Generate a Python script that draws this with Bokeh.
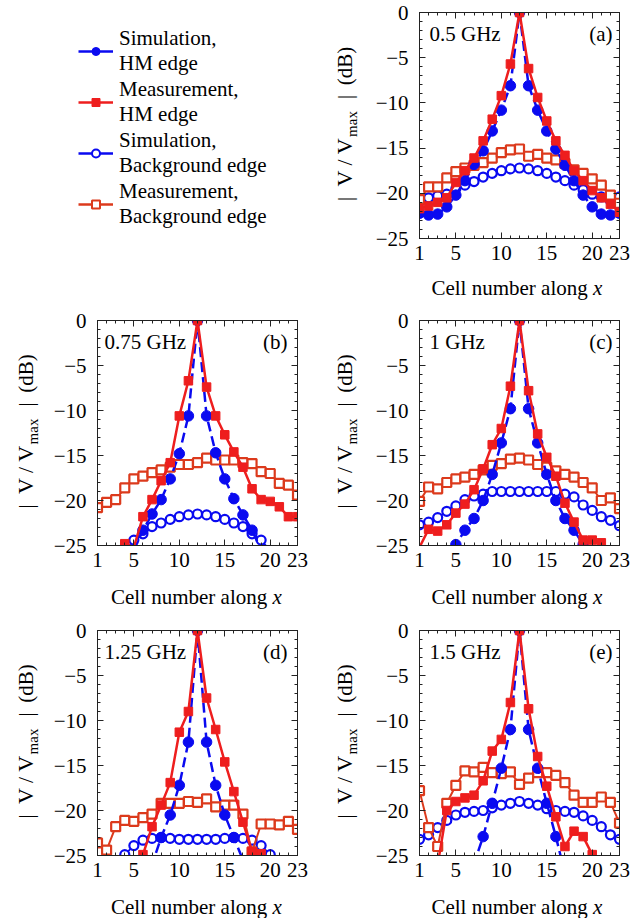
import numpy as np
from math import pi
from bokeh.plotting import figure
from bokeh.models import (Range1d, FixedTicker, LinearAxis, Label, Legend,
                          LegendItem, ColumnDataSource, CustomJSTickFormatter)
from bokeh.layouts import column, row
from bokeh.embed import file_html
from bokeh.resources import INLINE

# ---------------- data ----------------
cells = list(range(1, 24))
x_ticks = [1, 5, 10, 15, 20, 23]
y_ticks = [0, -5, -10, -15, -20, -25]
freq_labels = ["0.5 GHz", "0.75 GHz", "1 GHz", "1.25 GHz", "1.5 GHz"]
panel_tags = ["(a)", "(b)", "(c)", "(d)", "(e)"]
series_names = ["Simulation,\nHM edge", "Measurement,\nHM edge",
                "Simulation,\nBackground edge", "Measurement,\nBackground edge"]

# (a) 0.5 GHz
sim_hm_a = [-22.2, -22.4, -22.3, -21.5, -20.2, -18.6, -16.8, -15.3, -13.1, -10.8, -8.1, 0,
            -8.1, -10.8, -13.1, -15.1, -16.9, -18.6, -20.2, -21.5, -22.3, -22.4, -22.2]
meas_hm_a = [-21.7, -21.4, -21.0, -20.5, -18.8, -17.5, -16.1, -14.2, -11.8, -9.2, -5.7, 0,
             -6.2, -9.4, -12.0, -14.2, -15.8, -17.5, -18.6, -19.7, -20.5, -21.2, -22.1]
sim_bg_a = [-20.6, -20.5, -20.3, -20.1, -19.5, -19.1, -18.7, -18.2, -17.8, -17.5, -17.3, -17.2,
            -17.3, -17.5, -17.8, -18.2, -18.6, -19.1, -19.6, -20.1, -20.4, -20.8, -20.4]
meas_bg_a = [-20.7, -19.3, -19.3, -18.3, -17.6, -17.2, -16.9, -16.6, -16.1, -15.5, -15.2, -15.1,
             -15.9, -15.7, -16.1, -16.3, -16.7, -17.4, -17.8, -18.4, -19.1, -20.2, -21.1]

# (b) 0.75 GHz
sim_hm_b = [-33.0, -31.0, -29.0, -27.3, -25.5, -23.3, -21.5, -19.9, -17.6, -14.8, -10.6, 0,
            -10.6, -14.7, -17.6, -19.8, -21.6, -23.3, -25.5, -27.3, -29.0, -31.0, -33.0]
meas_hm_b = [-27.5, -26.5, -25.8, -24.8, -25.2, -21.8, -19.9, -17.8, -15.8, -10.6, -6.7, 0,
             -7.4, -10.6, -12.7, -14.6, -16.3, -18.7, -19.9, -20.1, -20.7, -21.8, -21.8]
sim_bg_b = [-29.0, -28.0, -27.0, -25.6, -24.4, -23.7, -22.9, -22.5, -22.1, -21.8, -21.6, -21.5,
            -21.6, -21.8, -22.1, -22.5, -22.9, -23.7, -24.4, -25.6, -27.0, -28.0, -29.0]
meas_bg_b = [-20.8, -20.2, -19.9, -18.6, -17.6, -17.3, -16.9, -16.6, -16.3, -16.0, -16.0, -15.8,
             -15.3, -15.5, -15.5, -15.5, -15.8, -15.9, -16.8, -17.0, -18.1, -18.3, -19.4]

# (c) 1 GHz
sim_hm_c = [-31.0, -29.5, -28.0, -26.5, -24.9, -23.3, -22.0, -20.0, -17.1, -13.6, -9.8, 0,
            -9.8, -13.6, -17.1, -20.0, -22.0, -23.3, -24.9, -26.5, -28.0, -29.5, -31.0]
meas_hm_c = [-25.2, -23.2, -23.4, -22.7, -21.4, -20.4, -18.8, -16.5, -13.8, -12.0, -7.3, 0,
             -7.8, -12.6, -15.2, -17.3, -20.3, -22.4, -24.4, -24.4, -24.7, -27.0, -28.0]
sim_bg_c = [-22.7, -22.4, -21.9, -21.2, -20.6, -19.9, -19.5, -19.3, -19.0, -19.0, -19.0, -19.0,
            -19.0, -19.0, -19.0, -19.0, -19.3, -19.6, -20.5, -21.1, -21.8, -22.2, -22.8]
meas_bg_c = [-20.1, -18.5, -18.7, -18.0, -17.6, -17.4, -17.1, -16.6, -16.1, -15.9, -15.4, -15.3,
             -15.5, -16.0, -16.3, -16.7, -17.1, -17.4, -18.0, -18.6, -20.0, -19.7, -20.9]

# (d) 1.25 GHz
sim_hm_d = [-40.0, -38.0, -36.0, -34.0, -32.0, -29.0, -26.0, -23.0, -20.5, -17.2, -12.4, 0,
            -12.4, -17.2, -20.5, -23.0, -25.5, -29.0, -32.0, -34.0, -36.0, -38.0, -40.0]
meas_hm_d = [-34.0, -32.0, -30.0, -28.5, -27.0, -24.9, -21.8, -19.4, -16.9, -11.3, -9.0, 0,
             -7.5, -11.0, -14.6, -17.9, -21.3, -24.6, -24.8, -27.0, -29.0, -31.0, -33.0]
sim_bg_d = [-27.5, -26.5, -25.6, -24.9, -23.9, -23.3, -23.1, -23.0, -23.1, -23.2, -23.2, -23.2,
            -23.2, -23.2, -23.1, -23.0, -23.1, -23.3, -23.9, -24.9, -26.0, -27.0, -28.0]
meas_bg_d = [-23.6, -24.4, -21.8, -21.1, -21.2, -20.8, -20.4, -19.2, -19.2, -19.2, -19.0, -19.1,
             -18.7, -19.6, -19.4, -19.4, -20.4, -24.6, -21.5, -21.5, -21.6, -21.2, -22.1]

# (e) 1.5 GHz
sim_hm_e = [-38.0, -36.0, -34.0, -32.0, -30.0, -28.0, -25.9, -22.9, -19.2, -15.3, -11.0, 0,
            -11.0, -15.3, -19.2, -22.9, -27.0, -29.0, -31.0, -33.0, -35.0, -37.0, -39.0]
meas_hm_e = [-30.0, -28.0, -26.0, -20.0, -19.0, -18.6, -18.3, -16.7, -13.4, -12.1, -8.0, 0,
             -8.7, -14.0, -17.3, -20.7, -24.0, -22.3, -22.9, -24.9, -27.0, -29.0, -31.0]
sim_bg_e = [-23.2, -22.7, -21.9, -21.1, -20.5, -20.2, -20.1, -20.0, -19.7, -19.4, -19.2, -19.0,
            -19.2, -19.4, -19.8, -20.0, -20.1, -20.2, -20.6, -21.1, -21.8, -22.7, -23.2]
meas_bg_e = [-17.8, -21.9, -24.0, -19.2, -17.2, -15.6, -15.7, -15.2, -15.8, -15.9, -15.7, -17.1,
             -16.4, -15.8, -15.8, -16.1, -16.9, -18.3, -19.1, -19.1, -18.5, -19.1, -21.4]

panels_data = [
    (sim_hm_a, meas_hm_a, sim_bg_a, meas_bg_a),
    (sim_hm_b, meas_hm_b, sim_bg_b, meas_bg_b),
    (sim_hm_c, meas_hm_c, sim_bg_c, meas_bg_c),
    (sim_hm_d, meas_hm_d, sim_bg_d, meas_bg_d),
    (sim_hm_e, meas_hm_e, sim_bg_e, meas_bg_e),
]

# ---------------- style ----------------
FONT = "Liberation Serif"
FS = "21px"
BLUE = "#0a0af0"
RED = "#ee1e1e"
ORANGE = "#dc3a1c"
AXC = "#222222"
Y_OVR = {v: (str(v) if v == 0 else "\u2212" + str(-v)) for v in y_ticks}
YL_W = 50          # width of the y-label strip
XL_H = 30          # height of the x-label strip
# y-label pieces: (text, centre along the label, sideways offset, font size)
YLAB = [("|", 4, 0, FS), ("V / V", 41, 0, "22px"), ("max", 79, 7, "15px"),
        ("|", 106, 0, FS), ("(dB)", 137, 0, FS)]
YLAB_LEN = 155


def style_axis(ax, show_labels=True):
    ax.axis_line_color = AXC
    ax.axis_line_width = 1
    ax.major_tick_line_color = AXC
    ax.minor_tick_line_color = AXC
    ax.major_tick_in = 6
    ax.major_tick_out = 0
    ax.minor_tick_in = 3
    ax.minor_tick_out = 0
    ax.major_label_text_font = FONT
    ax.major_label_text_color = "black"
    ax.major_label_text_font_size = FS
    if not show_labels:
        ax.formatter = CustomJSTickFormatter(code="return ''")
        ax.major_label_standoff = 0


def add_masked(p, xs, ys, **kw):
    xs = np.asarray(xs, dtype=float)
    ys = np.asarray(ys, dtype=float)
    m = ys >= -25.05
    p.scatter(xs[m], ys[m], **kw)


def blank_fig(w, h, top=0, bottom=0):
    # pixel-based ranges so that data units equal pixels of this strip's frame
    f = figure(width=w, height=h, x_range=Range1d(0, w), y_range=Range1d(0, h - top - bottom),
               output_backend="svg", toolbar_location=None,
               min_border_left=0, min_border_right=0,
               min_border_top=top, min_border_bottom=bottom,
               title=None, x_axis_location=None, y_axis_location=None)
    f.grid.visible = False
    f.outline_line_color = None
    return f


def make_panel(idx, frame_left, top_b, frame_h, cell_h, xl_base):
    sim_hm, meas_hm, sim_bg, meas_bg = panels_data[idx]
    plot_h = cell_h - XL_H
    bottom_b = plot_h - top_b - frame_h
    left_b = frame_left - YL_W
    fw = 322 - frame_left - 25
    p = figure(width=322 - YL_W, height=plot_h, x_range=Range1d(1, 23), y_range=Range1d(-25, 0),
               output_backend="svg", toolbar_location=None, title=None,
               min_border_left=left_b, min_border_right=25,
               min_border_top=top_b, min_border_bottom=bottom_b)
    p.grid.visible = False
    p.outline_line_color = AXC

    xt = FixedTicker(ticks=x_ticks, minor_ticks=cells)
    yt = FixedTicker(ticks=y_ticks, minor_ticks=list(range(-25, 1)))
    p.xaxis.ticker = xt
    p.yaxis.ticker = yt
    p.yaxis.major_label_overrides = Y_OVR
    style_axis(p.xaxis[0])
    style_axis(p.yaxis[0])
    p.xaxis.major_label_standoff = 7
    p.yaxis.major_label_standoff = 11

    ax_r = LinearAxis(ticker=yt)
    style_axis(ax_r, False)
    p.add_layout(ax_r, "right")
    ax_t = LinearAxis(ticker=xt)
    style_axis(ax_t, False)
    p.add_layout(ax_t, "above")

    # series
    p.line(cells, sim_bg, line_color=BLUE, line_width=2)
    add_masked(p, cells, sim_bg, marker="circle", size=9, line_color=BLUE,
               line_width=2.2, fill_color="white")
    p.line(cells, meas_bg, line_color=ORANGE, line_width=2)
    add_masked(p, cells, meas_bg, marker="square", size=9, line_color=ORANGE,
               line_width=2.2, fill_color="white")
    p.line(cells, sim_hm, line_color=BLUE, line_width=2.5, line_dash="10 5")
    add_masked(p, cells, sim_hm, marker="circle", size=10.5, line_color=BLUE,
               fill_color=BLUE)
    p.line(cells, meas_hm, line_color=RED, line_width=2.5)
    add_masked(p, cells, meas_hm, marker="square", size=8.5, line_color=RED,
               fill_color=RED)

    # annotations inside the frame
    lx = 7 if frame_left > 93 else 10
    p.add_layout(Label(x=lx, y=frame_h - 21, x_units="screen", y_units="screen",
                       text=freq_labels[idx], text_font=FONT, text_font_size=FS,
                       text_color="black", text_baseline="alphabetic", text_align="left"))
    p.add_layout(Label(x=fw - 12, y=frame_h - 21, x_units="screen", y_units="screen",
                       text=panel_tags[idx], text_font=FONT, text_font_size=FS,
                       text_color="black", text_baseline="alphabetic", text_align="right"))

    # y-label strip (its frame matches the plot frame vertically)
    yl = blank_fig(YL_W, plot_h, top_b, bottom_b)
    cx = frame_left - 70
    y0 = frame_h / 2 - YLAB_LEN / 2
    for txt, pos, dx, fsz in YLAB:
        yl.add_layout(Label(x=cx + dx, y=y0 + pos, angle=pi / 2, text=txt,
                            text_font=FONT, text_font_size=fsz, text_color="black",
                            text_baseline="middle", text_align="center"))

    # x-label strip
    xlf = blank_fig(322, XL_H)
    xc = frame_left + fw / 2 + 76
    xlf.add_layout(Label(x=xc, y=xl_base, text="Cell number along ", text_font=FONT,
                         text_font_size=FS, text_color="black",
                         text_baseline="alphabetic", text_align="right"))
    xlf.add_layout(Label(x=xc, y=xl_base, text="x", text_font=FONT, text_font_size=FS,
                         text_font_style="italic", text_color="black",
                         text_baseline="alphabetic", text_align="left"))
    return column(row(yl, p), xlf)


# legend cell
leg = figure(width=322, height=300, x_range=Range1d(0, 1), y_range=Range1d(0, 1),
             output_backend="svg", toolbar_location=None, min_border_left=52,
             min_border_right=0, min_border_top=0, min_border_bottom=0,
             title=None, x_axis_location=None, y_axis_location=None)
leg.grid.visible = False
leg.outline_line_color = None
dummy = ColumnDataSource(data=dict(x=[np.nan], y=[np.nan]))
r1l = leg.line("x", "y", source=dummy, line_color=BLUE, line_width=2.5)
r1s = leg.scatter("x", "y", source=dummy, marker="circle", size=10, line_color=BLUE, fill_color=BLUE)
r2l = leg.line("x", "y", source=dummy, line_color=RED, line_width=2.5)
r2s = leg.scatter("x", "y", source=dummy, marker="square", size=8, line_color=RED, fill_color=RED)
r3l = leg.line("x", "y", source=dummy, line_color=BLUE, line_width=2.5)
r3s = leg.scatter("x", "y", source=dummy, marker="circle", size=8, line_color=BLUE,
                  line_width=2, fill_color="white")
r4l = leg.line("x", "y", source=dummy, line_color=ORANGE, line_width=2.5)
r4s = leg.scatter("x", "y", source=dummy, marker="square", size=8, line_color=ORANGE,
                  line_width=2, fill_color="white")
legend = Legend(items=[
    LegendItem(label=series_names[0], renderers=[r1l, r1s]),
    LegendItem(label=series_names[1], renderers=[r2l, r2s]),
    LegendItem(label=series_names[2], renderers=[r3l, r3s]),
    LegendItem(label=series_names[3], renderers=[r4l, r4s]),
], location="top_left", margin=26, padding=0, spacing=1, glyph_width=35, glyph_height=20,
    label_standoff=6, label_text_font=FONT, label_text_font_size=FS,
    label_text_color="black", label_text_line_height=1.15,
    border_line_color=None, background_fill_alpha=0)
leg.add_layout(legend)

pa = make_panel(0, 92, 12, 226, 300, 13)
pb = make_panel(1, 95, 20, 225, 310, 14)
pc = make_panel(2, 92, 20, 225, 310, 14)
pd = make_panel(3, 95, 20, 225, 308, 12)
pe = make_panel(4, 92, 20, 225, 308, 12)

layout = column(row(leg, pa), row(pb, pc), row(pd, pe))
open("out.html", "w").write(file_html(layout, INLINE))
